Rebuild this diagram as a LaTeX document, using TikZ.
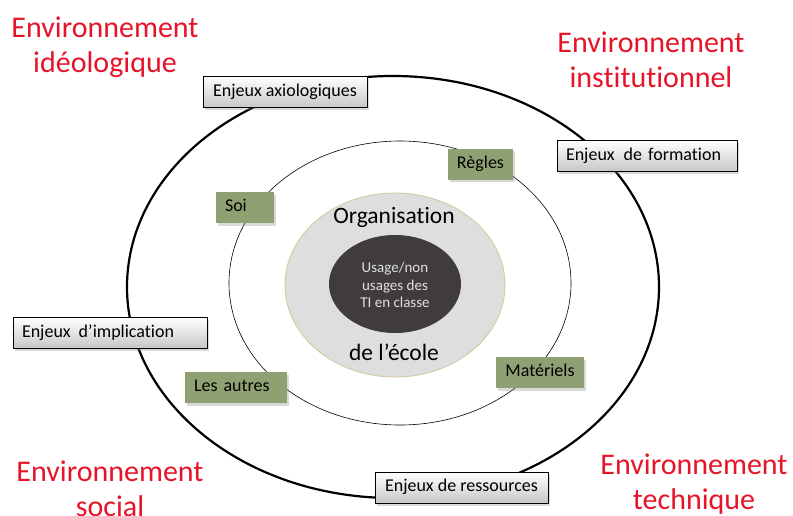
\documentclass[tikz,border=0pt]{standalone}
\usepackage{fontspec}
\setmainfont{Carlito}[Ligatures={TeX,NoCommon}]
\usepackage{tikz}
\usetikzlibrary{shadows}

\definecolor{rouge}{RGB}{230,20,40}
\definecolor{vert}{RGB}{143,161,115}
\definecolor{sombre}{RGB}{64,60,60}
\definecolor{clair}{RGB}{222,222,222}
\definecolor{beige}{RGB}{214,204,168}

\tikzset{
  enjeu/.style={draw=black, line width=0.8pt, top color=white, bottom color=black!22,
    minimum height=31pt, inner xsep=9pt, inner ysep=0pt, align=left,
    text height=12.5pt, text depth=4pt, font=\fontsize{18}{21}\selectfont,
    drop shadow={opacity=0.3, shadow xshift=2pt, shadow yshift=-2.5pt}},
  pole/.style={fill=vert, minimum height=31pt, inner xsep=9pt, inner ysep=0pt, align=left,
    text height=12.5pt, text depth=4pt, font=\fontsize{18}{21}\selectfont,
    drop shadow={opacity=0.3, shadow xshift=2pt, shadow yshift=-2.5pt}},
  milieu/.style={text=rouge, align=center, font=\fontsize{30}{35}\selectfont}
}

\begin{document}
\begin{tikzpicture}[x=1pt, y=-1pt]
	\useasboundingbox (0,0) rectangle (793,515);
	
	% les deux cercles
	\draw[line width=2.2pt] (393,287) ellipse [x radius=266, y radius=211];
	\draw[line width=0.6pt] (400,283) ellipse [x radius=171, y radius=142];
	
	% organisation de l'école
	\filldraw[fill=clair, draw=beige, line width=1pt] (395,285) ellipse [x radius=110, y radius=92];
	\fill[sombre] (395,284) ellipse [x radius=66, y radius=49];
	\node[font=\fontsize{23.5}{28}\selectfont, anchor=base] (orga) at (394,223) {Organisation};
	\node[font=\fontsize{23.5}{28}\selectfont, anchor=base] (ecole) at (394,360) {de l’école};
	\node[text=black!12, align=center, font=\fontsize{15}{17.5}\selectfont] (usage) at (395,285)
		{Usage/non\\usages des\\TI en classe};
	
	% enjeux
	\node[enjeu, minimum width=164pt] (axio) at (285,92) {Enjeux axiologiques};
	\node[enjeu, text width=162pt] (forma) at (647,156) {Enjeux\hspace{3pt} de formation};
	\node[enjeu, text width=176pt] (impli) at (110,333) {Enjeux\hspace{2pt} d’implication};
	\node[enjeu, minimum width=173pt] (resso) at (461.5,487.5) {Enjeux de ressources};
	
	% pôles
	\node[pole, minimum width=65pt] (regles) at (480.5,164) {Règles};
	\node[pole, text width=40pt] (soi) at (245,207.5) {Soi};
	\node[pole, minimum width=88pt] (mater) at (540,372.5) {Matériels};
	\node[pole, text width=84pt] (autres) at (236,387.5) {Les autres};
	
	% environnements
	\node[milieu] (ideo) at (105,47) {Environnement\\idéologique};
	\node[milieu] (insti) at (651,60) {Environnement\\institutionnel};
	\node[milieu] (social) at (110,489) {Environnement\\social};
	\node[milieu] (techn) at (694,484) {Environnement\\technique};
\end{tikzpicture}
\end{document}
